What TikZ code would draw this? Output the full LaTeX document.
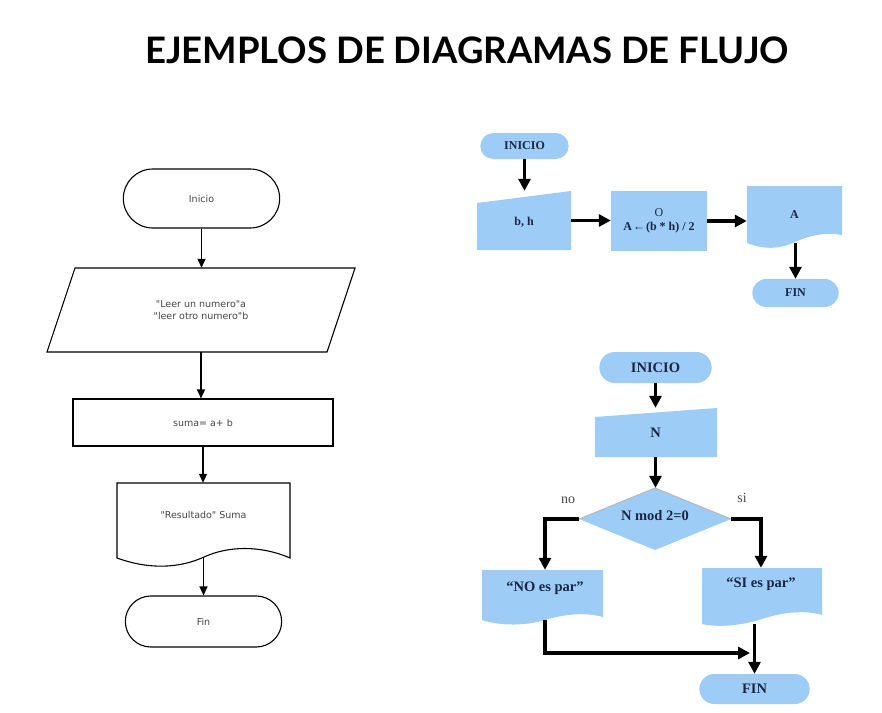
\documentclass[tikz,border=0pt]{standalone}
\usepackage{fontspec}
\setmainfont{Liberation Serif}
\newfontfamily\titlefont{Lato}
\newfontfamily\plainfont{DejaVu Sans}
\usetikzlibrary{shapes.misc,arrows.meta}
\definecolor{flowblue}{RGB}{157,204,247}
\definecolor{navytext}{RGB}{28,38,68}
\definecolor{greytext}{RGB}{70,70,70}
\tikzset{
  whiteterm/.style={rounded rectangle, draw=black, line width=1.1pt, fill=white,
    font=\plainfont\fontsize{9.5}{11}\selectfont, text=greytext},
  whitebox/.style={draw=none, font=\plainfont\fontsize{9.5}{12}\selectfont, text=greytext, align=center, inner sep=0pt},
  thinline/.style={draw=black, line width=1.1pt},
  thinarr/.style={draw=black, line width=1.1pt, -{Triangle[length=9pt,width=8pt]}},
  topfont/.style={font=\bfseries\fontsize{12}{14}\selectfont},
  botfont/.style={font=\bfseries\fontsize{14.5}{17}\selectfont},
  blueterm/.style={rounded rectangle, fill=flowblue, draw=none, text=navytext},
  bluebox/.style={draw=none, inner sep=0pt, text=navytext, align=center},
  thickarr/.style={draw=black, line width=3.4pt, -{Triangle[length=12pt,width=12pt]}},
  branchlabel/.style={text=greytext, font=\fontsize{14}{16}\selectfont},
}
\begin{document}
\begin{tikzpicture}[x=1pt,y=-1pt]
\useasboundingbox (0,0) rectangle (882,712);
\fill[white] (0,0) rectangle (882,712);

% title
\node[font=\titlefont\bfseries\fontsize{36.5}{40}\selectfont] (title) at (467,50) {EJEMPLOS DE DIAGRAMAS DE FLUJO};

% ---------- left flowchart ----------
\node[whiteterm, minimum width=163pt, minimum height=59pt] (lini) at (201.5,198.5) {Inicio};
\draw[thinline] (75,268) -- (355,268) -- (327,352) -- (47,352) -- cycle;
\node[whitebox, minimum width=280pt, minimum height=84pt] (lpar) at (201,310)
  {"Leer un numero"a\\"leer otro numero"b};
\node[whitebox, draw=black, line width=1.1pt, minimum width=260pt, minimum height=47pt] (lsum) at (203,422.5) {suma= a+ b};
\draw[thinline, fill=white] (117,483) -- (290,483) -- (290,558)
  .. controls (260,545) and (228,546) .. (204,557)
  .. controls (180,568) and (150,570) .. (117,558) -- cycle;
\node[whitebox, minimum width=173pt, minimum height=74pt] (lres) at (203.5,520)
  {\raisebox{10pt}{"Resultado" Suma}};
\node[whiteterm, minimum width=163pt, minimum height=51pt] (lfin) at (203.5,621.5) {Fin};

\draw[thinarr] (lini.south) -- (lini.south |- lpar.north);
\draw[thinarr] (lpar.south) -- (lpar.south |- lsum.north);
\draw[thinarr] (lsum.south) -- (lsum.south |- lres.north);
\draw[thinarr] (lres.south) -- (lfin.north);

% ---------- top-right flowchart ----------
\node[blueterm, topfont, minimum width=95pt, minimum height=26pt] (tini) at (524.5,146) {INICIO};
\fill[flowblue] (477,203) -- (571,191) -- (571,250) -- (477,250) -- cycle;
\node[bluebox, topfont, minimum width=94pt, minimum height=59pt] (tbh) at (524,220.5) {\raisebox{-12pt}{b, h}};
\node[bluebox, topfont, fill=flowblue, minimum width=96pt, minimum height=60pt] (tproc) at (659,221)
  {\fontsize{12}{22}\selectfont{\mdseries O}\\A\kern1pt\raisebox{0.5pt}{←}\kern1pt(b * h) / 2};
\fill[flowblue] (747,186) -- (842,186) -- (842,235)
  .. controls (828,232) and (810,235) .. (795,242)
  .. controls (780,249) and (765,250) .. (747,243) -- cycle;
\node[bluebox, topfont, minimum width=95pt, minimum height=57pt] (tdoc) at (794.5,214.5) {A};
\node[blueterm, topfont, minimum width=93pt, minimum height=28pt] (tfin) at (795.5,293) {FIN};

\draw[thickarr] (tini.south) -- (tini.south |- tbh.north);
\draw[thickarr] (tbh.east) -- (tproc.west |- tbh.east);
\draw[thickarr] (tproc.east) -- (tdoc.west |- tproc.east);
\draw[thickarr] (tfin.north |- tdoc.south) -- (tfin.north);

% ---------- bottom-right flowchart ----------
\node[blueterm, botfont, minimum width=119pt, minimum height=31pt] (bini) at (655.5,367.5) {INICIO};
\fill[flowblue] (595,417) -- (717,408) -- (717,457) -- (595,457) -- cycle;
\node[bluebox, botfont, minimum width=122pt, minimum height=49pt] (bn) at (655.5,432.5) {N};
\fill[flowblue] (655,488) -- (731,519) -- (655,550) -- (579,519) -- cycle;
\draw[gray!55, line width=1pt] (579,519) -- (655,488) -- (731,519);
\node[bluebox, botfont, minimum width=152pt, minimum height=62pt] (bdec) at (655,519) {\raisebox{8pt}{N mod 2=0}};
\fill[flowblue] (482,570) -- (603,570) -- (603,617)
  .. controls (585,612) and (565,614) .. (545,620)
  .. controls (525,626) and (500,626) .. (482,620) -- cycle;
\node[bluebox, botfont, minimum width=121pt, minimum height=50pt] (bno) at (545,595) {\raisebox{16pt}{``NO es par''}};
\fill[flowblue] (702,568) -- (822,568) -- (822,615)
  .. controls (805,610) and (785,612) .. (765,618)
  .. controls (745,625) and (720,628) .. (702,624) -- cycle;
\node[bluebox, botfont, minimum width=120pt, minimum height=56pt] (bsi) at (761,596) {\raisebox{26pt}{``SI es par''}};
\node[blueterm, botfont, minimum width=117pt, minimum height=30pt] (bfin) at (754.5,689) {FIN};

\node[branchlabel] (lno) at (568,500) {no};
\node[branchlabel] (lsi) at (742,498) {si};
\coordinate (bmerge) at (750,653);
\draw[thickarr] (bini.south) -- (bini.south |- bn.north);
\draw[thickarr] (bn.south) -- (bn.south |- bdec.north);
\draw[thickarr] (bdec.west) -| (bno.north);
\draw[thickarr] (bdec.east) -| (bsi.north);
\draw[thickarr] (bno.south) |- (bmerge);
\draw[thickarr] (bfin.north |- bsi.south) -- (bfin.north);
\end{tikzpicture}
\end{document}
